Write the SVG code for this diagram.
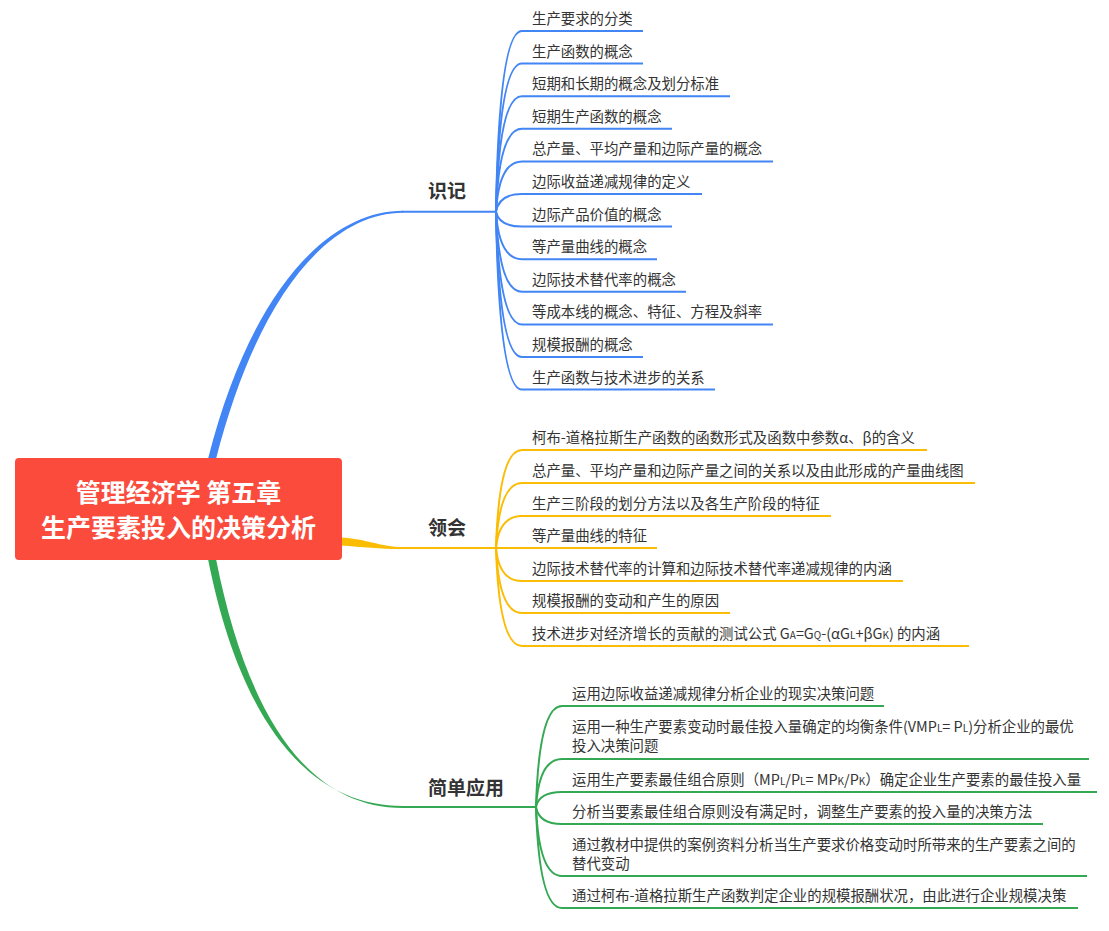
<svg xmlns="http://www.w3.org/2000/svg" width="1109" height="931" viewBox="0 0 1109 931">
<style>
.t{font-family:"Noto Sans CJK SC","Microsoft YaHei","Noto Sans",sans-serif;font-size:14.4px;fill:#333}
.b{font-family:"Noto Sans CJK SC","Microsoft YaHei","Noto Sans",sans-serif;font-size:19px;font-weight:bold;fill:#333}
.r{font-family:"Noto Sans CJK SC","Microsoft YaHei","Noto Sans",sans-serif;font-size:25px;font-weight:bold;fill:#fff}
.s{font-size:10px}
.cb{fill:none;stroke:#4285f4;stroke-width:2}
.cy{fill:none;stroke:#fbbc04;stroke-width:2}
.cg{fill:none;stroke:#34a853;stroke-width:2}
</style>
<rect width="1109" height="931" fill="#fff"/>
<g id="connectors">
  <!-- main branches -->
  <path d="M208 459 C251 289 329 210.8 403 210.8 L403 212.8 C331 213.2 259 291 216 459 Z" fill="#4285f4"/>
  <path class="cb" d="M402 211.8 L496 211.8"/>
  <path d="M340 537.5 C368 539 380 547 403 547 L403 549 C378 549 364 547 340 545.5 Z" fill="#fbbc04"/>
  <path class="cy" d="M402 548 L496 548"/>
  <path d="M208 559 C236 700 296 806 403 806 L403 808 C300 808 244 700 216 559 Z" fill="#34a853"/>
  <path class="cg" d="M402 807 L536 807"/>
  <!-- blue children -->
  <path class="cb" d="M496 211.8 Q499 31 522 31 L643 31"/>
  <path class="cb" d="M496 211.8 Q499 63.6 522 63.6 L643 63.6"/>
  <path class="cb" d="M496 211.8 Q499 96.2 522 96.2 L730 96.2"/>
  <path class="cb" d="M496 211.8 Q499 128.8 522 128.8 L672 128.8"/>
  <path class="cb" d="M496 211.8 Q499 161.4 522 161.4 L773 161.4"/>
  <path class="cb" d="M496 211.8 Q499 194 522 194 L702 194"/>
  <path class="cb" d="M496 211.8 Q499 226.6 522 226.6 L672 226.6"/>
  <path class="cb" d="M496 211.8 Q499 259.2 522 259.2 L657 259.2"/>
  <path class="cb" d="M496 211.8 Q499 291.8 522 291.8 L686 291.8"/>
  <path class="cb" d="M496 211.8 Q499 324.4 522 324.4 L773 324.4"/>
  <path class="cb" d="M496 211.8 Q499 357 522 357 L643 357"/>
  <path class="cb" d="M496 211.8 Q499 389.6 522 389.6 L715 389.6"/>
  <!-- yellow children -->
  <path class="cy" d="M496 548 Q499 450 522 450 L927 450"/>
  <path class="cy" d="M496 548 Q499 483 522 483 L975 483"/>
  <path class="cy" d="M496 548 Q499 516 522 516 L831 516"/>
  <path class="cy" d="M496 548 L657 548"/>
  <path class="cy" d="M496 548 Q499 581 522 581 L903 581"/>
  <path class="cy" d="M496 548 Q499 613 522 613 L730 613"/>
  <path class="cy" d="M496 548 Q499 646 522 646 L969 646"/>
  <!-- green children -->
  <path class="cg" d="M536 807 Q539 706 562 706 L884 706"/>
  <path class="cg" d="M536 807 Q539 759 562 759 L1089 759"/>
  <path class="cg" d="M536 807 Q539 792 562 792 L1097 792"/>
  <path class="cg" d="M536 807 Q539 824 562 824 L1043 824"/>
  <path class="cg" d="M536 807 Q539 876 562 876 L1087 876"/>
  <path class="cg" d="M536 807 Q539 908 562 908 L1078 908"/>
</g>
<g id="root">
  <rect x="15" y="458" width="327" height="102" rx="4" fill="#fa4b3c"/>
  <text class="r" x="178.5" y="502" text-anchor="middle">管理经济学 第五章</text>
  <text class="r" x="178.5" y="537" text-anchor="middle">生产要素投入的决策分析</text>
</g>
<g id="branch-shiji"><text class="b" x="428" y="198">识记</text></g>
<g id="branch-linghui"><text class="b" x="428" y="535">领会</text></g>
<g id="branch-yingyong"><text class="b" x="428" y="795">简单应用</text></g>
<g id="shiji-items">
  <text class="t" x="532" y="24">生产要求的分类</text>
  <text class="t" x="532" y="56.6">生产函数的概念</text>
  <text class="t" x="532" y="89.2">短期和长期的概念及划分标准</text>
  <text class="t" x="532" y="121.8">短期生产函数的概念</text>
  <text class="t" x="532" y="154.4">总产量、平均产量和边际产量的概念</text>
  <text class="t" x="532" y="187">边际收益递减规律的定义</text>
  <text class="t" x="532" y="219.6">边际产品价值的概念</text>
  <text class="t" x="532" y="252.2">等产量曲线的概念</text>
  <text class="t" x="532" y="284.8">边际技术替代率的概念</text>
  <text class="t" x="532" y="317.4">等成本线的概念、特征、方程及斜率</text>
  <text class="t" x="532" y="350">规模报酬的概念</text>
  <text class="t" x="532" y="382.6">生产函数与技术进步的关系</text>
</g>
<g id="linghui-items">
  <text class="t" x="532" y="443">柯布-道格拉斯生产函数的函数形式及函数中参数α、β的含义</text>
  <text class="t" x="532" y="476">总产量、平均产量和边际产量之间的关系以及由此形成的产量曲线图</text>
  <text class="t" x="532" y="509">生产三阶段的划分方法以及各生产阶段的特征</text>
  <text class="t" x="532" y="541">等产量曲线的特征</text>
  <text class="t" x="532" y="574">边际技术替代率的计算和边际技术替代率递减规律的内涵</text>
  <text class="t" x="532" y="606">规模报酬的变动和产生的原因</text>
  <text class="t" x="532" y="639">技术进步对经济增长的贡献的测试公式 G<tspan class="s">A</tspan>=G<tspan class="s">Q</tspan>-(αG<tspan class="s">L</tspan>+βG<tspan class="s">K</tspan>) 的内涵</text>
</g>
<g id="yingyong-items">
  <text class="t" x="572" y="699">运用边际收益递减规律分析企业的现实决策问题</text>
  <text class="t" x="572" y="732">运用一种生产要素变动时最佳投入量确定的均衡条件(VMP<tspan class="s">L</tspan>= P<tspan class="s">L</tspan>)分析企业的最优</text>
  <text class="t" x="572" y="751">投入决策问题</text>
  <text class="t" x="572" y="785">运用生产要素最佳组合原则（MP<tspan class="s">L</tspan>/P<tspan class="s">L</tspan>= MP<tspan class="s">K</tspan>/P<tspan class="s">K</tspan>）确定企业生产要素的最佳投入量</text>
  <text class="t" x="572" y="817">分析当要素最佳组合原则没有满足时，调整生产要素的投入量的决策方法</text>
  <text class="t" x="572" y="850">通过教材中提供的案例资料分析当生产要求价格变动时所带来的生产要素之间的</text>
  <text class="t" x="572" y="869">替代变动</text>
  <text class="t" x="572" y="901">通过柯布-道格拉斯生产函数判定企业的规模报酬状况，由此进行企业规模决策</text>
</g>
</svg>
